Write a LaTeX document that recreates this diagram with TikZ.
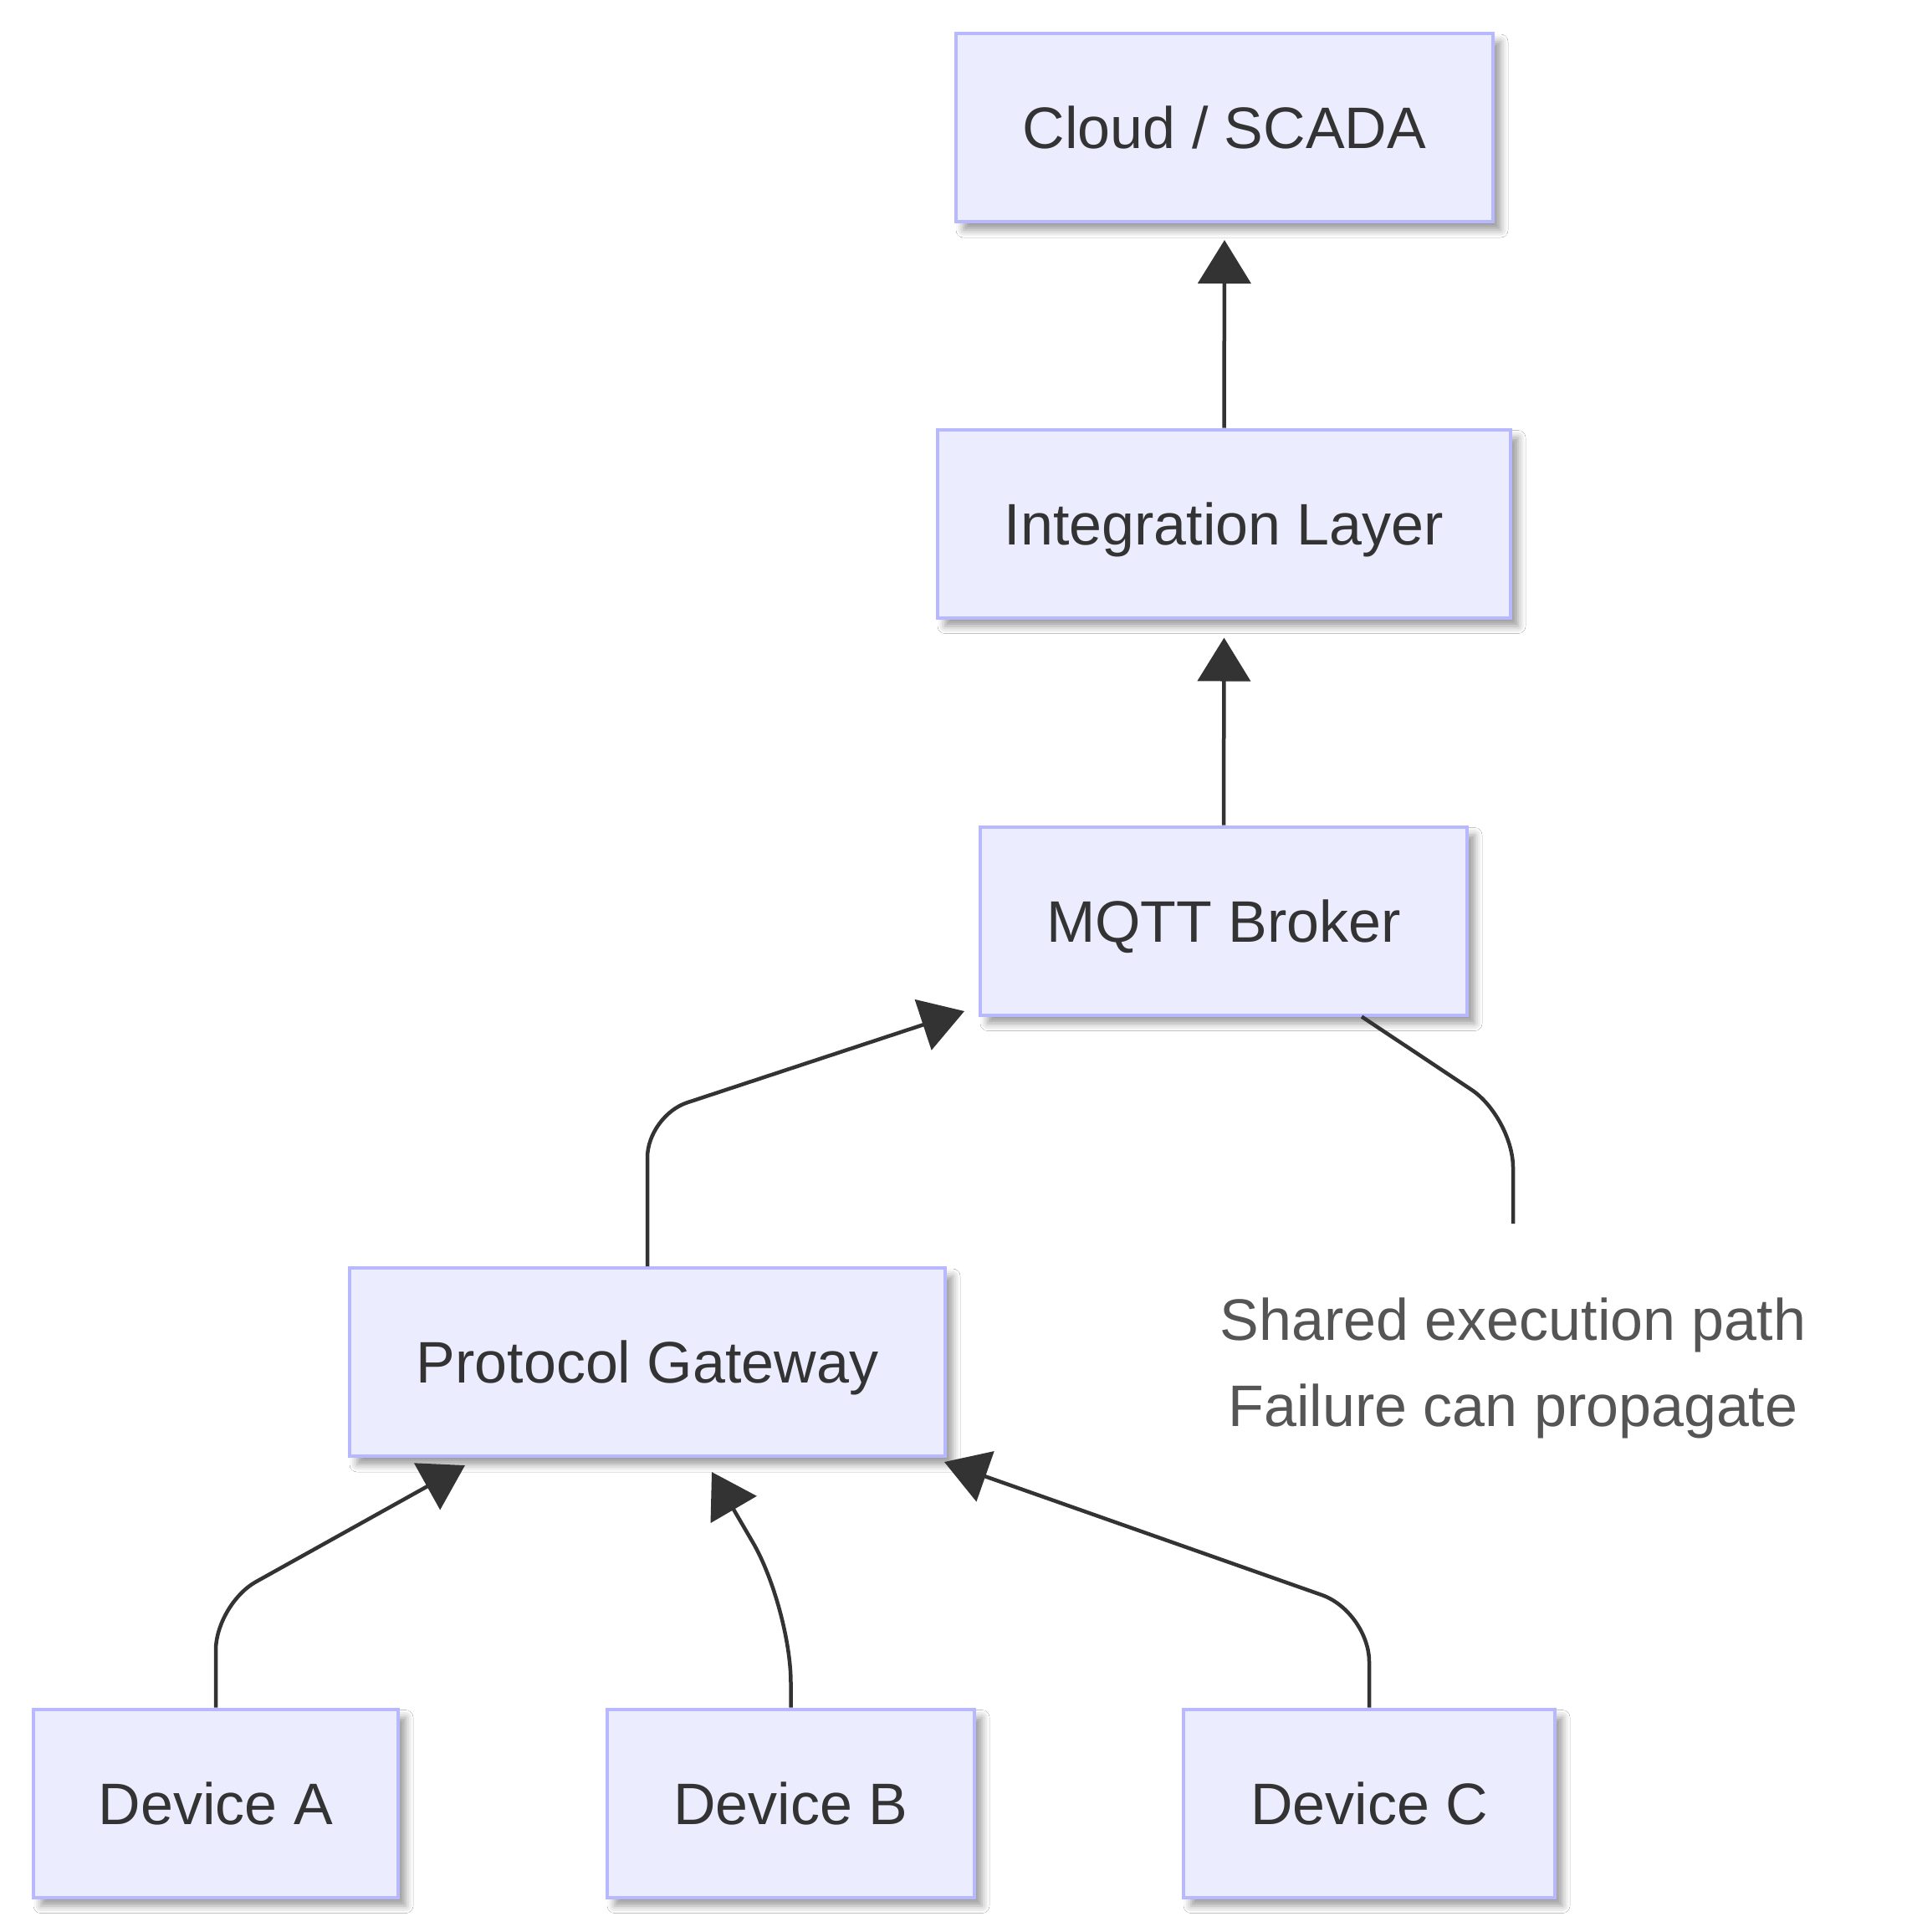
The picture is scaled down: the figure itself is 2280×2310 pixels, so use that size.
\documentclass[tikz,border=0pt]{standalone}
\usepackage{fontspec}
\setmainfont{Liberation Sans}
\usetikzlibrary{arrows.meta,shadows.blur,calc}
\definecolor{boxfill}{HTML}{ECECFF}
\definecolor{boxline}{HTML}{B8B8FF}
\definecolor{ink}{HTML}{333333}
\definecolor{notegray}{HTML}{555555}
\begin{document}
\begin{tikzpicture}[x=1pt,y=-1pt,
  box/.style={draw=boxline, fill=boxfill, line width=4pt, minimum height=225pt,
    inner sep=0pt, text=ink, font=\fontsize{70pt}{84pt}\selectfont,
    text height=64pt, text depth=14pt,
    blur shadow={shadow xshift=9pt, shadow yshift=-10pt, shadow blur radius=9pt, shadow opacity=40}},
  edge/.style={draw=ink, line width=4.5pt},
  tipped/.style={-{Triangle[length=52pt,width=63pt]}},
  notetext/.style={anchor=north, inner sep=0pt, align=center, text=notegray,
    font=\fontsize{70pt}{103pt}\selectfont}]
\useasboundingbox (0,0) rectangle (2280,2310);
\fill[white] (0,0) rectangle (2280,2310);

\node[box, minimum width=642pt] (cloud) at (1464,152.5) {Cloud / SCADA};
\node[box, minimum width=685pt] (integ) at (1463.5,626) {Integration Layer};
\node[box, minimum width=582pt] (mqtt) at (1463,1101) {MQTT Broker};
\node[box, minimum width=712pt] (gw) at (774,1628.5) {Protocol Gateway};
\node[box, minimum width=436pt] (devA) at (258,2156) {Device A};
\node[box, minimum width=439pt] (devB) at (945.5,2156) {Device B};
\node[box, minimum width=444pt] (devC) at (1637,2156) {Device C};

\node[notetext] (note) at (1809,1463) {\rule{0pt}{139pt}Shared execution path\\Failure can propagate};

\coordinate (tipA) at (556,1752);
\coordinate (tipB) at (851,1760);
\coordinate (tipC) at (1129,1748);
\coordinate (tipGW) at (1153,1209);

\draw[edge,tipped] (integ.north) -- ($(cloud.south)+(0,20)$);
\draw[edge,tipped] (mqtt.north) -- ($(integ.south)+(0,22)$);
\draw[edge,tipped,rounded corners=50pt] (gw.north) -- (774,1334) -- (tipGW);
\draw[edge,tipped,rounded corners=55pt] (devA.north) -- (258,1918) -- (tipA);
\draw[edge,tipped,rounded corners=90pt] (devB.north) -- (945.5,1922) -- (tipB);
\draw[edge,tipped,rounded corners=60pt] (devC.north) -- (1637,1927) -- (tipC);
\draw[edge,rounded corners=60pt] ($(mqtt.south)+(165,0)$) -- (1809,1336) -- (note.north);
\end{tikzpicture}
\end{document}
